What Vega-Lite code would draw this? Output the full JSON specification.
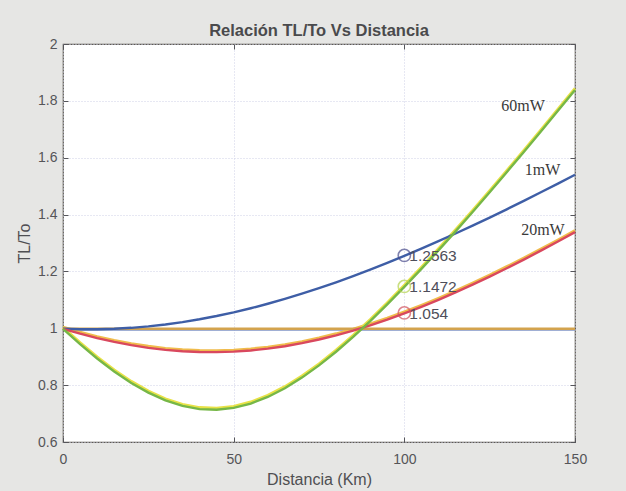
{
  "$schema": "https://vega.github.io/schema/vega-lite/v6.json",
  "width": 512,
  "height": 398,
  "autosize": {"type": "none"},
  "padding": {"left": 63, "top": 44, "right": 51, "bottom": 49},
  "background": "#e6e6e4",
  "config": {
    "view": {"fill": "#ffffff", "stroke": "#5e5a52", "strokeWidth": 1.2},
    "font": "Liberation Sans",
    "axis": {"domain": false, "tickColor": "#55555a", "tickSize": -5, "labelFlush": false, "labelColor": "#555558", "labelFontSize": 14, "titleColor": "#4f4f52", "titleFontSize": 16, "titleFontWeight": "normal", "labelFont": "Liberation Sans", "titleFont": "Liberation Sans"}
  },
  "title": {"text": "Relación TL/To Vs Distancia", "fontSize": 16.5, "fontWeight": "bold", "color": "#4a4a4c", "font": "Liberation Sans", "anchor": "middle", "baseline": "alphabetic", "offset": -15},
  "datasets": {
    "curvas": [
      {"z": 0, "tl": 1, "serie": "ref"}, {"z": 150, "tl": 1, "serie": "ref"},
      {"z": 0, "tl": 1.0, "serie": "1mW"}, {"z": 5, "tl": 0.99829, "serie": "1mW"}, {"z": 10, "tl": 0.99829, "serie": "1mW"}, {"z": 15, "tl": 0.99999, "serie": "1mW"}, {"z": 20, "tl": 1.00339, "serie": "1mW"}, {"z": 25, "tl": 1.00846, "serie": "1mW"}, {"z": 30, "tl": 1.01518, "serie": "1mW"}, {"z": 35, "tl": 1.02352, "serie": "1mW"}, {"z": 40, "tl": 1.03344, "serie": "1mW"}, {"z": 45, "tl": 1.0449, "serie": "1mW"}, {"z": 50, "tl": 1.05784, "serie": "1mW"}, {"z": 55, "tl": 1.07221, "serie": "1mW"}, {"z": 60, "tl": 1.08796, "serie": "1mW"}, {"z": 65, "tl": 1.10503, "serie": "1mW"}, {"z": 70, "tl": 1.12334, "serie": "1mW"}, {"z": 75, "tl": 1.14286, "serie": "1mW"}, {"z": 80, "tl": 1.16351, "serie": "1mW"}, {"z": 85, "tl": 1.18524, "serie": "1mW"}, {"z": 90, "tl": 1.20798, "serie": "1mW"}, {"z": 95, "tl": 1.23169, "serie": "1mW"}, {"z": 100, "tl": 1.2563, "serie": "1mW"}, {"z": 105, "tl": 1.28177, "serie": "1mW"}, {"z": 110, "tl": 1.30805, "serie": "1mW"}, {"z": 115, "tl": 1.33508, "serie": "1mW"}, {"z": 120, "tl": 1.36282, "serie": "1mW"}, {"z": 125, "tl": 1.39123, "serie": "1mW"}, {"z": 130, "tl": 1.42027, "serie": "1mW"}, {"z": 135, "tl": 1.44991, "serie": "1mW"}, {"z": 140, "tl": 1.4801, "serie": "1mW"}, {"z": 145, "tl": 1.51081, "serie": "1mW"}, {"z": 150, "tl": 1.54202, "serie": "1mW"},
      {"z": 0, "tl": 1.0, "serie": "20mW"}, {"z": 5, "tl": 0.9827, "serie": "20mW"}, {"z": 10, "tl": 0.96726, "serie": "20mW"}, {"z": 15, "tl": 0.95376, "serie": "20mW"}, {"z": 20, "tl": 0.94231, "serie": "20mW"}, {"z": 25, "tl": 0.93296, "serie": "20mW"}, {"z": 30, "tl": 0.92579, "serie": "20mW"}, {"z": 35, "tl": 0.92084, "serie": "20mW"}, {"z": 40, "tl": 0.91815, "serie": "20mW"}, {"z": 45, "tl": 0.91774, "serie": "20mW"}, {"z": 50, "tl": 0.91962, "serie": "20mW"}, {"z": 55, "tl": 0.92376, "serie": "20mW"}, {"z": 60, "tl": 0.93015, "serie": "20mW"}, {"z": 65, "tl": 0.93873, "serie": "20mW"}, {"z": 70, "tl": 0.94944, "serie": "20mW"}, {"z": 75, "tl": 0.96222, "serie": "20mW"}, {"z": 80, "tl": 0.97697, "serie": "20mW"}, {"z": 85, "tl": 0.99363, "serie": "20mW"}, {"z": 90, "tl": 1.01208, "serie": "20mW"}, {"z": 95, "tl": 1.03223, "serie": "20mW"}, {"z": 100, "tl": 1.054, "serie": "20mW"}, {"z": 105, "tl": 1.07726, "serie": "20mW"}, {"z": 110, "tl": 1.10194, "serie": "20mW"}, {"z": 115, "tl": 1.12795, "serie": "20mW"}, {"z": 120, "tl": 1.15518, "serie": "20mW"}, {"z": 125, "tl": 1.18356, "serie": "20mW"}, {"z": 130, "tl": 1.21301, "serie": "20mW"}, {"z": 135, "tl": 1.24344, "serie": "20mW"}, {"z": 140, "tl": 1.27479, "serie": "20mW"}, {"z": 145, "tl": 1.307, "serie": "20mW"}, {"z": 150, "tl": 1.34, "serie": "20mW"},
      {"z": 0, "tl": 1.0, "serie": "60mW"}, {"z": 5, "tl": 0.94591, "serie": "60mW"}, {"z": 10, "tl": 0.89567, "serie": "60mW"}, {"z": 15, "tl": 0.84997, "serie": "60mW"}, {"z": 20, "tl": 0.80958, "serie": "60mW"}, {"z": 25, "tl": 0.77533, "serie": "60mW"}, {"z": 30, "tl": 0.74806, "serie": "60mW"}, {"z": 35, "tl": 0.72855, "serie": "60mW"}, {"z": 40, "tl": 0.71745, "serie": "60mW"}, {"z": 45, "tl": 0.71514, "serie": "60mW"}, {"z": 50, "tl": 0.7217, "serie": "60mW"}, {"z": 55, "tl": 0.7369, "serie": "60mW"}, {"z": 60, "tl": 0.76022, "serie": "60mW"}, {"z": 65, "tl": 0.79095, "serie": "60mW"}, {"z": 70, "tl": 0.82825, "serie": "60mW"}, {"z": 75, "tl": 0.87129, "serie": "60mW"}, {"z": 80, "tl": 0.91925, "serie": "60mW"}, {"z": 85, "tl": 0.97142, "serie": "60mW"}, {"z": 90, "tl": 1.02714, "serie": "60mW"}, {"z": 95, "tl": 1.08588, "serie": "60mW"}, {"z": 100, "tl": 1.1472, "serie": "60mW"}, {"z": 105, "tl": 1.21062, "serie": "60mW"}, {"z": 110, "tl": 1.27591, "serie": "60mW"}, {"z": 115, "tl": 1.34277, "serie": "60mW"}, {"z": 120, "tl": 1.41098, "serie": "60mW"}, {"z": 125, "tl": 1.48035, "serie": "60mW"}, {"z": 130, "tl": 1.55073, "serie": "60mW"}, {"z": 135, "tl": 1.62198, "serie": "60mW"}, {"z": 140, "tl": 1.694, "serie": "60mW"}, {"z": 145, "tl": 1.76668, "serie": "60mW"}, {"z": 150, "tl": 1.83996, "serie": "60mW"}
    ],
    "marcadores": [
      {"z": 100, "tl": 1.2563, "serie": "1mW", "etiqueta": "1.2563"},
      {"z": 100, "tl": 1.1472, "serie": "60mW", "etiqueta": "1.1472"},
      {"z": 100, "tl": 1.054, "serie": "20mW", "etiqueta": "1.054"}
    ],
    "potencias": [
      {"z": 134.8, "tl": 1.782, "texto": "60mW"},
      {"z": 140.5, "tl": 1.557, "texto": "1mW"},
      {"z": 140.6, "tl": 1.346, "texto": "20mW"}
    ]
  },
  "resolve": {"scale": {"color": "independent"}, "axis": {"x": "independent", "y": "independent"}},
  "layer": [
    {
      "data": {"name": "curvas"},
      "transform": [{"filter": "datum.serie === 'ref'"}],
      "mark": {"type": "line", "color": "#8194c6", "strokeWidth": 1.6, "yOffset": 1.6},
      "encoding": {
        "x": {"field": "z", "type": "quantitative", "scale": {"domain": [0, 150], "nice": false},
              "axis": {"orient": "top", "values": [0, 50, 100, 150], "labels": false, "grid": false, "title": null}},
        "y": {"field": "tl", "type": "quantitative", "scale": {"domain": [0.6, 2], "nice": false, "zero": false},
              "axis": {"orient": "right", "values": [0.6, 0.8, 1, 1.2, 1.4, 1.6, 1.8, 2], "labels": false, "grid": false, "title": null}}
      }
    },
    {
      "data": {"name": "curvas"},
      "transform": [{"filter": "datum.serie === '20mW' || datum.serie === '60mW'"}],
      "mark": {"type": "line", "strokeWidth": 2.8, "yOffset": -1.1},
      "encoding": {
        "x": {"field": "z", "type": "quantitative", "axis": null},
        "y": {"field": "tl", "type": "quantitative", "axis": null},
        "color": {"field": "serie", "type": "nominal", "legend": null,
                  "scale": {"domain": ["20mW", "60mW"], "range": ["#f0bc4c", "#e8e247"]}}
      }
    },
    {
      "data": {"name": "curvas"},
      "mark": {"type": "line", "strokeWidth": 2.4, "yOffset": 0.5},
      "encoding": {
        "x": {"field": "z", "type": "quantitative",
              "axis": {"orient": "bottom", "values": [0, 50, 100, 150], "grid": true, "gridColor": "#cfd1e6", "gridDash": [1, 2], "gridWidth": 1, "labelPadding": 15, "title": "Distancia (Km)", "titlePadding": 5}},
        "y": {"field": "tl", "type": "quantitative",
              "axis": {"orient": "left", "values": [0.6, 0.8, 1, 1.2, 1.4, 1.6, 1.8, 2], "format": "~g", "grid": true, "gridColor": "#cfd1e6", "gridDash": [1, 2], "gridWidth": 1, "labelPadding": 11, "title": "TL/To", "titlePadding": 5}},
        "color": {"field": "serie", "type": "nominal", "legend": null,
                  "scale": {"domain": ["ref", "1mW", "20mW", "60mW"], "range": ["#d3a34e", "#3e5ea6", "#d9485e", "#76b747"]}}
      }
    },
    {
      "data": {"name": "marcadores"},
      "mark": {"type": "point", "shape": "circle", "filled": false, "size": 150, "strokeWidth": 1.6},
      "encoding": {
        "x": {"field": "z", "type": "quantitative", "axis": null},
        "y": {"field": "tl", "type": "quantitative", "axis": null},
        "color": {"field": "serie", "type": "nominal", "legend": null,
                  "scale": {"domain": ["1mW", "20mW", "60mW"], "range": ["#4a4c8c", "#d0505e", "#b4d24e"]}}
      }
    },
    {
      "data": {"name": "marcadores"},
      "mark": {"type": "text", "align": "left", "baseline": "middle", "dx": 5, "dy": 1, "fontSize": 15.5, "font": "Liberation Sans", "color": "#4e4e5a"},
      "encoding": {
        "x": {"field": "z", "type": "quantitative", "axis": null},
        "y": {"field": "tl", "type": "quantitative", "axis": null},
        "text": {"field": "etiqueta", "type": "nominal"}
      }
    },
    {
      "data": {"name": "potencias"},
      "mark": {"type": "text", "align": "center", "baseline": "middle", "fontSize": 16, "font": "Liberation Serif", "color": "#3a3a3a"},
      "encoding": {
        "x": {"field": "z", "type": "quantitative", "axis": null},
        "y": {"field": "tl", "type": "quantitative", "axis": null},
        "text": {"field": "texto", "type": "nominal"}
      }
    }
  ]
}
